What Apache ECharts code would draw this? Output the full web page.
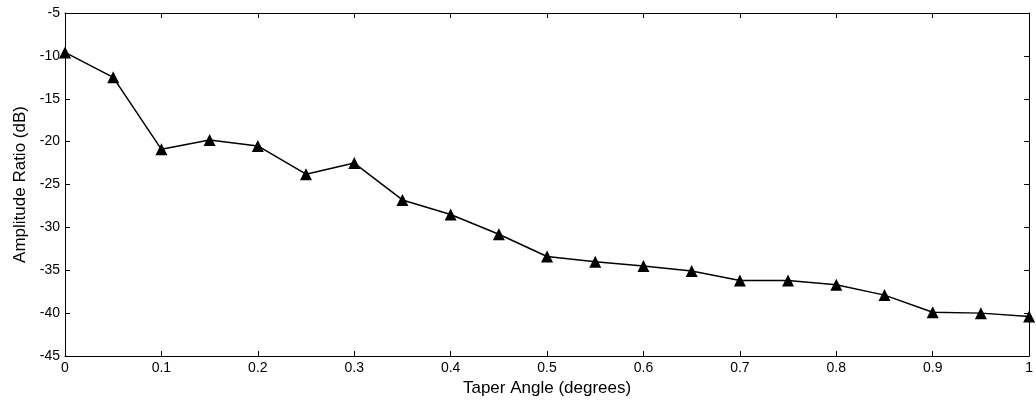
<!DOCTYPE html>
<html><head><meta charset="utf-8">
<script src="https://cdn.jsdelivr.net/npm/echarts@6/dist/echarts.min.js"></script>
<style>html,body{margin:0;padding:0;background:#fff}#c{width:1036px;height:403px}</style>
</head><body><div id="c"></div>
<script>
const taperAngle = [0, 0.05, 0.1, 0.15, 0.2, 0.25, 0.3, 0.35, 0.4, 0.45, 0.5, 0.55, 0.6, 0.65, 0.7, 0.75, 0.8, 0.85, 0.9, 0.95, 1.0];
const amplitudeRatio = [-9.6, -12.5, -20.9, -19.8, -20.5, -23.8, -22.5, -26.8, -28.5, -30.8, -33.4, -34.0, -34.5, -35.1, -36.2, -36.2, -36.7, -37.9, -39.9, -40.0, -40.4];
const xLabel = 'Taper Angle (degrees)';
const yLabel = 'Amplitude Ratio (dB)';

const font = 'Liberation Sans, Arial, sans-serif';
const chart = echarts.init(document.getElementById('c'));
const lineStyle = {color: '#000', width: 1};
const baseX = {type: 'value', min: 0, max: 1, interval: 0.1,
  axisLine: {show: true, onZero: false, lineStyle},
  axisTick: {show: true, inside: true, length: 5, lineStyle},
  splitLine: {show: false}};
const baseY = {type: 'value', min: -45, max: -5, interval: 5,
  axisLine: {show: true, onZero: false, lineStyle},
  axisTick: {show: true, inside: true, length: 5, lineStyle},
  splitLine: {show: false}};
chart.setOption({
  animation: false,
  backgroundColor: '#fff',
  grid: {left: 65, right: 4, top: 13, bottom: 47, containLabel: false},
  xAxis: [
    Object.assign({}, baseX, {position: 'bottom', name: xLabel, nameLocation: 'middle', nameGap: 23,
      nameTextStyle: {color: '#000', fontFamily: font, fontSize: 17},
      axisLabel: {color: '#000', fontFamily: font, fontSize: 14, margin: 5,
        formatter: v => String(Math.round(v * 10) / 10)}}),
    Object.assign({}, baseX, {position: 'top', axisLabel: {show: false}})
  ],
  yAxis: [
    Object.assign({}, baseY, {position: 'left', name: yLabel, nameLocation: 'middle', nameGap: 33,
      nameTextStyle: {color: '#000', fontFamily: font, fontSize: 17},
      axisLabel: {color: '#000', fontFamily: font, fontSize: 14, margin: 5}}),
    Object.assign({}, baseY, {position: 'right', axisLabel: {show: false}})
  ],
  series: [{
    type: 'line',
    data: taperAngle.map((x, i) => [x, amplitudeRatio[i]]),
    symbol: 'triangle', symbolSize: 12,
    itemStyle: {color: '#000'},
    lineStyle: {color: '#000', width: 1.5},
    clip: false
  }]
});
</script></body></html>
